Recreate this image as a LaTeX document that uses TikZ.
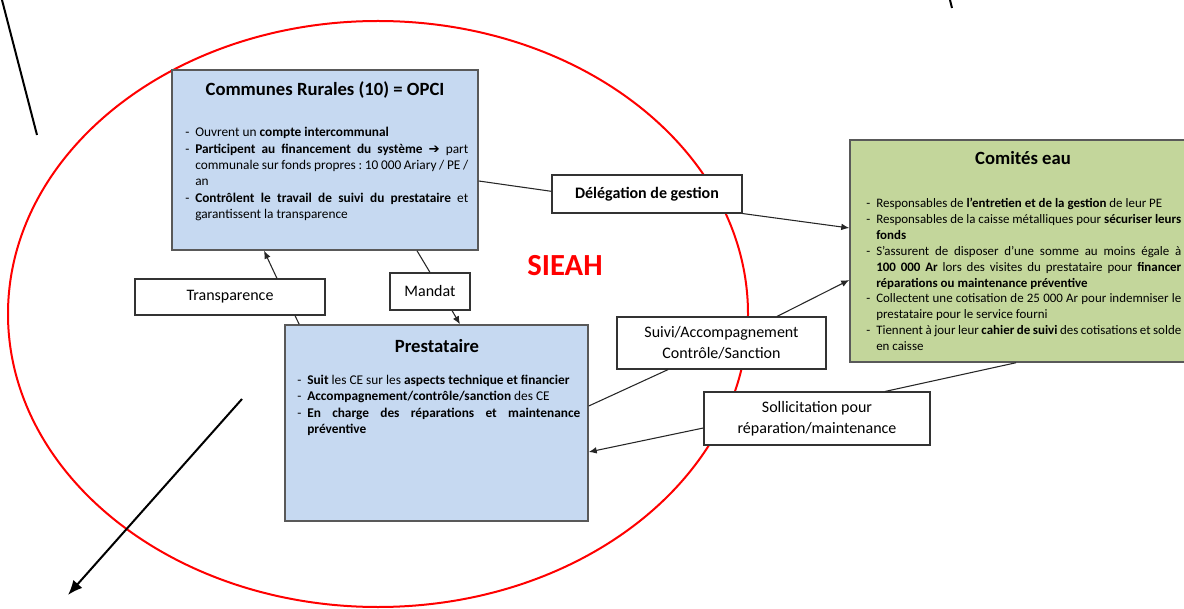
\documentclass[tikz,border=0pt]{standalone}
\usepackage{fontspec}
\setmainfont{Carlito}
\newfontfamily\dejavu{DejaVu Sans}
\usetikzlibrary{arrows.meta}
\definecolor{boxblue}{HTML}{C6D9F1}
\definecolor{boxgreen}{HTML}{C3D69B}
\definecolor{framegray}{HTML}{595959}
\hyphenpenalty=10000
\exhyphenpenalty=10000
\frenchspacing
\newcommand\ditem[1]{\noindent\hangindent=7.5pt\hangafter=1\makebox[7.5pt][l]{-}#1\par}
\begin{document}
\begin{tikzpicture}[x=0.75pt,y=-0.75pt,
  bigbox/.style={draw=framegray, line width=1.1pt, inner sep=0pt},
  bluebox/.style={bigbox, fill=boxblue},
  greenbox/.style={bigbox, fill=boxgreen},
  labelbox/.style={draw=black!80, fill=white, line width=0.8pt, inner sep=0pt, align=center, font=\fontsize{12}{15.5}\selectfont},
  titletext/.style={inner sep=0pt, font=\fontsize{14}{17}\selectfont\bfseries},
  bodytext/.style={anchor=north west, inner sep=0pt, align=justify},
  conn/.style={draw=black!85, line width=0.8pt},
  arr/.style={conn, -{Latex[length=6pt,width=5pt]}},
  freeline/.style={draw=black, line width=1.5pt},
  sieahline/.style={draw=red, line width=1.5pt}]
\useasboundingbox (0,0) rectangle (1184,609);

% SIEAH ellipse
\draw[sieahline] (378,314) ellipse [x radius=277.5pt, y radius=219.75pt];
\node[text=red, inner sep=0pt, font=\fontsize{23}{28}\selectfont\bfseries] (sieah) at (565,266) {SIEAH};

% main boxes
\node[bluebox, minimum width=229.5pt, minimum height=135pt] (communes) at (325,160) {};
\node[titletext] (communesT) at (325,90) {Communes Rurales (10) = OPCI};
\node[bodytext, text width=212.25pt, font=\fontsize{10}{12.3}\selectfont] (communesB) at (185,127) {%
\ditem{Ouvrent un \textbf{compte intercommunal}}
\ditem{\textbf{Participent au financement du système} {\dejavu\bfseries ➔} part communale sur fonds propres : 10~000 Ariary / PE / an}
\ditem{\textbf{Contrôlent le travail de suivi du prestataire} et garantissent la transparence}};

\node[bluebox, minimum width=227.25pt, minimum height=147pt] (prest) at (436.5,423) {};
\node[titletext] (prestT) at (437,346) {Prestataire};
\node[bodytext, text width=212.25pt, font=\fontsize{10}{12.2}\selectfont] (prestB) at (297,375) {%
\ditem{\textbf{Suit} les CE sur les \textbf{aspects technique et financier}}
\ditem{\textbf{Accompagnement/contrôle/sanction} des CE}
\ditem{\textbf{En charge des réparations et maintenance préventive}}};

\node[greenbox, minimum width=259.5pt, minimum height=166.5pt] (comites) at (1023,251) {};
\node[titletext] (comitesT) at (1023,158) {Comités eau};
\node[bodytext, text width=236.25pt, font=\fontsize{9.7}{11.9}\selectfont] (comitesB) at (866,198) {%
\ditem{Responsables de \textbf{l’entretien et de la gestion} de leur PE}
\ditem{Responsables de la caisse métalliques pour \textbf{sécuriser leurs fonds}}
\ditem{S’assurent de disposer d’une somme au moins égale à \textbf{100~000 Ar} lors des visites du prestataire pour \textbf{financer réparations ou maintenance préventive}}
\ditem{Collectent une cotisation de 25~000 Ar pour indemniser le prestataire pour le service fourni}
\ditem{Tiennent à jour leur \textbf{cahier de suivi} des cotisations et solde en caisse}};

% label boxes
\node[labelbox, minimum width=142.5pt, minimum height=28.5pt, font=\fontsize{12}{15.5}\selectfont\bfseries] (deleg) at (647,194) {Délégation de gestion};
\node[labelbox, minimum width=142.5pt, minimum height=27pt] (transp) at (230,297) {Transparence};
\node[labelbox, minimum width=60pt, minimum height=27.75pt] (mandat) at (430,291.5) {Mandat};
\node[labelbox, minimum width=156.75pt, minimum height=39pt] (suivi) at (721.5,343) {Suivi/Accompagnement\\Contrôle/Sanction};
\node[labelbox, minimum width=169.5pt, minimum height=39.75pt] (sollic) at (817,418.5) {Sollicitation pour\\réparation/maintenance};

% connectors
\draw[conn] ([yshift=-15.75pt]communes.east) -- ([yshift=2pt]deleg.west);
\draw[arr] (deleg.south east) -- ([yshift=17.25pt]comites.west);
\draw[arr] ([xshift=35.25pt]transp.north) -- ([xshift=-45.75pt]communes.south);
\draw[conn] ([xshift=-103pt]prest.north) -- ([xshift=48.75pt]transp.south);
\draw[conn] ([xshift=69pt]communes.south) -- (mandat.north);
\draw[arr] ([xshift=16.5pt]mandat.south) -- ([xshift=17.6pt]prest.north);
\draw[conn] ([yshift=12.75pt]prest.east) -- ([xshift=-40pt]suivi.south);
\draw[arr] ([xshift=41.6pt]suivi.north) -- ([yshift=-21.75pt]comites.west);
\draw[conn] ([xshift=-5.25pt]comites.south) -- ([xshift=51pt]sollic.north);
\draw[arr] ([yshift=-7.1pt]sollic.west) -- ([yshift=-21.75pt]prest.east);

% free black strokes
\coordinate (tlA) at (2,0);
\coordinate (tlB) at (37,135);
\draw[freeline] (tlA) -- (tlB);
\coordinate (trA) at (950,0);
\coordinate (trB) at (952,8);
\draw[freeline] (trA) -- (trB);
\coordinate (blA) at (242,399);
\coordinate (blB) at (68,595);
\draw[freeline, -{Latex[length=11pt,width=9pt]}] (blA) -- (blB);
\end{tikzpicture}
\end{document}
